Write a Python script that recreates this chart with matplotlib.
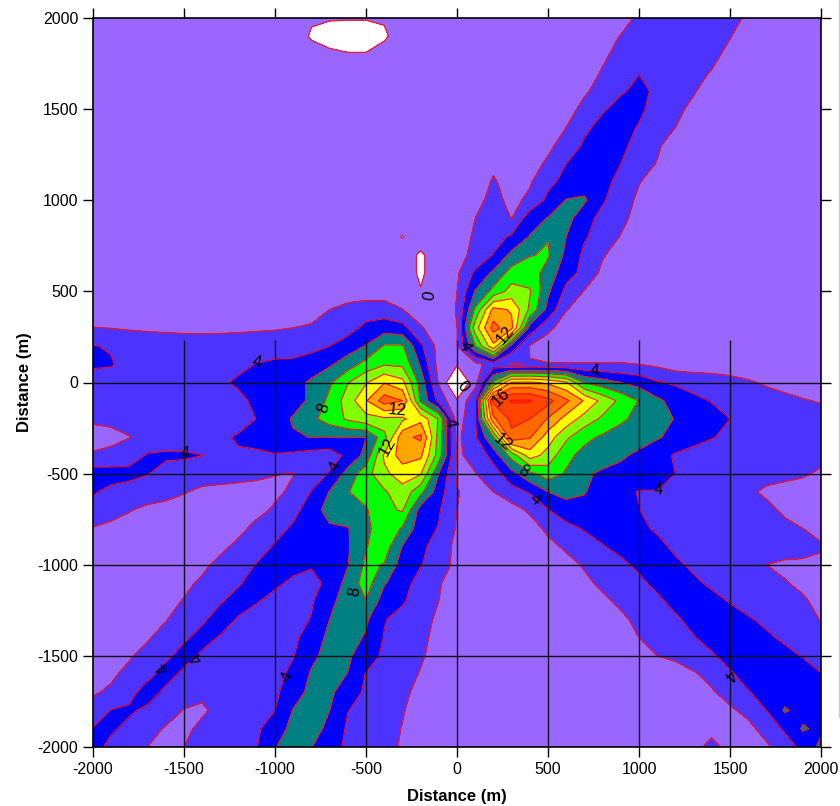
import numpy as np
import matplotlib
matplotlib.use('Agg')
import matplotlib.pyplot as plt
from matplotlib.lines import Line2D

plt.rcParams['font.family'] = ['Liberation Sans', 'DejaVu Sans']

x_dist = [-2000,-1900,-1800,-1700,-1600,-1500,-1400,-1300,-1200,-1100,-1000,-900,-800,-700,-600,-500,-400,-300,-200,-100,0,
          100,200,300,400,500,600,700,800,900,1000,1100,1200,1300,1400,1500,1600,1700,1800,1900,2000]
y_dist = [2000,1900,1800,1700,1600,1500,1400,1300,1200,1100,1000,900,800,700,600,500,400,300,200,100,0,
          -100,-200,-300,-400,-500,-600,-700,-800,-900,-1000,-1100,-1200,-1300,-1400,-1500,-1600,-1700,-1800,-1900,-2000]

# values, one row per y_dist, one column per x_dist
z_vals = [
[1,1,1,1,1,1,1,1,1,1, 1,1,.2,.2,.2,.2,.2,1,1,1, 1, 1,1,1,1,1,1,1,1,1,2.5, 3,3,3,3,2.6,1.7,1,1,1,1],
[1,1,1,1,1,1,1,1,1,1, 1,1,-.2,-1,-1.5,-1.5,-.3,1,1,1, 1, 1,1,1,1,1,1,1,1,2.1,3, 3,3,3,3,2.1,1,1,1,1,1],
[1,1,1,1,1,1,1,1,1,1, 1,1,.7,.5,.2,.2,.8,1,1,1, 1, 1,1,1,1,1,1,1,1.6,2.7,3, 3,3,3,2.5,1.5,1,1,1,1,1],
[1,1,1,1,1,1,1,1,1,1, 1,1,1,1,1,1,1,1,1,1, 1, 1,1,1,1,1,1,1,2.2,2.9,3.95, 3.2,2.9,2.5,1.9,1,1,1,1,1,1],
[1,1,1,1,1,1,1,1,1,1, 1,1,1,1,1,1,1,1,1,1, 1, 1,1,1,1,1,1,1.7,2.8,3.8,4.4, 3.7,2.8,2.2,1,1,1,1,1,1,1],
[1,1,1,1,1,1,1,1,1,1, 1,1,1,1,1,1,1,1,1,1, 1, 1,1,1,1,1,1.2,2.6,3.8,4.6,4.3, 3.4,2.5,1.5,1,1,1,1,1,1,1],
[1,1,1,1,1,1,1,1,1,1, 1,1,1,1,1,1,1,1,1,1, 1, 1,1,1,1,1,2,3.6,4.6,4.5,3.9, 2.9,2,1,1,1,1,1,1,1,1],
[1,1,1,1,1,1,1,1,1,1, 1,1,1,1,1,1,1,1,1,1, 1, 1,1,1,1,1.6,2.8,4.3,4.7,4.4,3.4, 2.3,1,1,1,1,1,1,1,1,1],
[1,1,1,1,1,1,1,1,1,1, 1,1,1,1,1,1,1,1,1,1, 1, 1,1.6,1,1.3,2.3,4,4.6,4.5,4,2.8, 1.9,1,1,1,1,1,1,1,1,1],
[1,1,1,1,1,1,1,1,1,1, 1,1,1,1,1,1,1,1,1,1, 1, 1,2.2,1.3,1.8,3.5,4.6,5,4.6,3.4,2.1, 1,1,1,1,1,1,1,1,1,1],
[1,1,1,1,1,1,1,1,1,1, 1,1,1,1,1,1,1,1,1,1, 1, 1.4,2.6,1.5,2.4,4.5,6.1,6.3,4.2,3,1.6, 1,1,1,1,1,1,1,1,1,1],
[1,1,1,1,1,1,1,1,1,1, 1,1,1,1,1,1,1,1,1,1, 1, 2,2.5,1.98,5.2,6.1,6.8,4.6,3.5,2.5,1.3, 1,1,1,1,1,1,1,1,1,1],
[1,1,1,1,1,1,1,1,1,1, 1,1,1,1,1,1,1,-.1,1,1, 1, 2.3,3.2,4.3,6.1,7.9,6,4.2,3.2,1.9,1, 1,1,1,1,1,1,1,1,1,1],
[1,1,1,1,1,1,1,1,1,1, 1,1,1,1,1,1,1,1,-.3,1, 1.5, 2.4,4.1,6.5,7.9,8.2,5.5,3.6,2.2,1,1, 1,1,1,1,1,1,1,1,1,1],
[1,1,1,1,1,1,1,1,1,1, 1,1,1,1,1,1,1,1,-.3,1, 1.7, 4.4,6.4,8.9,9,7.2,4.7,3.5,1.5,1,1, 1,1,1,1,1,1,1,1,1,1],
[1,1,1,1,1,1,1,1,1,1, 1,1,1,1,1,1,1,1,.1,1, 2, 6.1,8.6,10.8,10.2,6.3,3.5,1.9,1,1,1, 1,1,1,1,1,1,1,1,1,1],
[1,1,1,1,1,1,1,1,1,1, 1,1,1,2,2.6,3,3,2.05,1,1, 2.1, 8.3,14.6,13.8,9.6,5.4,2.1,1,1,1,1, 1,1,1,1,1,1,1,1,1,1],
[2.05,1.95,1.85,1.75,1.65,1.55,1.5,1.55,1.65,1.75, 1.85,2,2.3,2.8,3.2,4.5,5,4.7,2.2,1, 2, 11,16.8,14.5,5.2,2.5,1,1,1,1,1, 1,1,1,1,1,1,1,1,1,1],
[4.1,3.8,3,3,3,3,3,3,3,3, 3,3,3.4,4,5,6.1,8.2,8.2,4.4,1.3, 1.9, 8,13.5,5.2,1.9,1,1,1,1,1,1, 1,1,1,1,1,1,1,1,1,1],
[4.3,4.2,3,3,3,3,3,3,3.7,4.05, 4.4,4.5,5,5.7,7,8.7,9.8,9.6,5.7,1.3, .2, 1.4,2.9,1.9,2.05,2.1,2.1,2.1,2.1,2.1,2, 1.6,1,1,1,1,1,1,1,1,1],
[3,3,3,3,3,3,3,3.8,4.2,4.6, 4.9,5.3,6.3,7.7,9.9,11.8,13.9,12.6,7.2,1.8, -2.5, 1.3,8.3,14.2,14.3,13.6,12.2,7.9,6.9,6,5.3, 4.2,3.7,3.2,3,2.6,2.2,1.8,1.5,1.3,1.2],
[3,3,3,3,3,3,3,3,3.7,4.3, 4.6,5.2,6.4,8.5,10.9,13.8,17,16,7.6,3.4, .2, 3.7,18.5,20.2,20.2,18.7,16.4,13.8,11.4,9.5,7.9, 6.4,5.3,4.5,3.9,3.4,3,2.7,2.4,2.1,1.9],
[2.3,2.5,2.7,2.9,3,3,3,3.1,3.3,4.05, 5,6.2,7.5,8.9,10.3,11.3,11.6,11.6,13.4,9.8, 1, 3.7,15.6,18.5,18,15.8,13.2,11.2,9.6,8.3,7.5, 6.7,5.9,5.3,4.7,4,3.5,3.2,3,2.8,2.5],
[1.3,1.4,1.95,2.6,3,3,3.2,3.7,4.2,4.8, 5.4,5.8,6.05,6.05,6.05,5.95,9.2,15.4,16.4,9.2, 1.5, 3.7,8,17.5,16.2,13,10.4,8.5,7.7,7.2,6.8, 6.2,5.4,4.7,4.1,3.6,3.3,3.1,3,3,2.8],
[2.2,2.6,3,4.2,4.3,4.3,4.02,3.4,3.8,3.6, 3.85,3.6,3.2,3,4.5,6.6,12.3,15,14.4,9, 1.8, 2.4,4.8,8.8,13,11.2,8.5,7.4,6.9,6.3,5.6, 4.7,3.8,3.3,3.1,3,2.8,2.7,2.6,2.5,2.4],
[5,4.8,4.7,4.1,3.3,3,2.7,2.6,2.5,2.3, 2.05,1.95,2.7,4.2,6.7,9.2,11.6,12.9,12.2,6, 1.7, 1.95,3.1,5.3,7.5,9,7.8,6.3,5.7,5.4,5, 4.6,4,3.5,3.1,2.9,2.6,2.4,2.4,2.15,1.8],
[4.2,3.5,3,2.9,2.6,2.1,1.7,1.6,1.5,1.5, 1.7,2.3,4.1,6.1,7.9,8.9,9.7,11.3,8.6,4.9, 2.1, 1.4,2,3.2,4.2,6,6.5,6.1,5.2,4.5,3.9, 3.95,3.9,3.3,2.9,2.6,2.2,1.8,1.5,1.5,1.6],
[3.4,2.8,2.1,1.6,1.4,1.3,1.2,1.2,1.2,1.6, 2.2,3.4,5,6.8,7.2,7.8,9.5,10.2,5.1,4.2, 2, 1,1.1,1.2,2.3,3.9,5.3,5.5,5.2,4.7,4.05, 3.3,3.1,3,2.9,2.8,2.5,2.3,1.8,1.4,1.4],
[1.9,1.5,1.3,1.2,1.1,1.1,1.1,1.1,1.6,2.4, 3.3,4.3,5,5.7,5.9,7.4,9.5,7.8,4.8,3.9, 1.8, 1,1,1,1.2,2.4,3.3,4.2,4.6,4.7,4.3, 3.8,3.4,3.2,3.1,3,2.9,2.7,2.3,2,1.7],
[1.2,1,1,1,1,1,1,1.6,2.4,3.2, 4.2,4.8,5.2,5.6,5.8,7.9,9,5.9,4.5,3.1, 1.5, 1,1,1,1,1.5,2.3,3,3.9,4.5,4.8, 4.4,3.7,3.4,3.2,3.1,3,2.9,2.8,2.6,2.1],
[1,1,1,1,1,1,1.6,2.5,3.3,4.1, 4.6,4.5,4.2,4.6,5.9,8.4,7.9,5.1,4.1,3.1, 1.4, 1,1,1,1,1,1.4,2.2,2.9,3.6,4.4, 4.7,4.3,3.7,3.2,2.8,2.4,2,1.7,1.7,1.8],
[1,1,1,1,1,1.6,2.3,3.2,3.9,4.4, 4.3,3.7,3.4,4.5,6.7,8.9,6.2,4.6,3.4,2.2, 1, 1,1,1,1,1,1,1.6,2.4,3,3.6, 4.5,4.8,4.3,3.7,3.2,2.8,2.5,2.1,1.7,1.6],
[1,1,1,1,1.5,2.1,3,3.9,4.4,4.1, 3.5,3.2,3.8,5.4,7.1,7.95,5,4.2,3.1,2, 1, 1,1,1,1,1,1,1,1.6,2.4,3, 3.6,4.6,4.8,4.5,3.9,3.2,2.9,2.7,2.2,1.6],
[1,1,1,1.4,1.9,2.9,3.8,4.5,3.9,3.4, 3.1,3.3,4.1,6,7,6.3,4.1,3.4,2.6,1.7, 1, 1,1,1,1,1,1,1,1,1.6,2.5, 3,3.7,4.6,4.9,4.7,4.2,3.6,3.1,2.8,1.9],
[1,1,1.4,1.8,2.8,3.8,4.4,3.9,3.4,3.1, 3,3.5,5.1,6.4,6.7,5.8,3.9,3.2,2.4,1.5, 1, 1,1,1,1,1,1,1,1,1,2, 2.9,3.2,3.9,4.6,5,4.8,4.3,3.7,3.2,2.9],
[1,1.3,1.8,2.7,3.7,4.5,3.8,3.4,3.2,3, 3.1,3.9,5.6,6.6,6.3,5,3.6,2.9,2.2,1.4, 1, 1,1,1,1,1,1,1,1,1,1.4, 2,2.3,3,3.8,4.6,5,5,4.5,3.9,3.3],
[1.2,1.7,2.5,3.6,4.5,3.7,3.2,2.9,2.9,3.1, 3.4,4.5,6.2,6.7,5.95,3.9,3.3,2.6,1.9,1, 1, 1,1,1,1,1,1,1,1,1,1, 1,1.3,1.8,2.6,3.8,4.6,5.2,5.3,4.9,4.05],
[1.8,2.3,3.6,4.6,3.7,3,2.4,2.7,3,3.2, 3.6,5.2,6.5,6.4,4.9,3.7,3,2.3,1.6,1, 1, 1,1,1,1,1,1,1,1,1,1, 1,1,1,1.8,2.7,3.9,4.6,5.2,5.3,5],
[2.8,4.1,4.2,3.7,3,1.9,1.7,2.6,3,3.4, 4,6.1,6.6,6,4.05,3.4,2.8,2.1,1.4,1, 1, 1,1,1,1,1,1,1,1,1,1, 1,1,1,1,1.7,2.5,4,6.2,5.4,5.4],
[4.1,4.2,3.6,2.8,1.8,1.5,2.5,3,3.3,3.7, 5,6.6,6.6,5.6,3.7,3.1,2.5,1.95,1.3,1, 1, 1,1,1,1,1,1,1,1,1,1, 1,1,1,1,1,1.5,2.7,4.3,6.2,5.6],
[4.5,3.6,3.2,2,1.4,2,2.7,3,3.4,3.95, 5.9,6.9,6.05,5,3.5,3.2,2.6,1.8,1.2,1, 1, 1,1,1,1,1,1,1,1,1,1, 1,1,1,3,1,1,1.7,2.9,4.6,6.5],
]

levels = [0,2,4,6,8,10,12,14,16,18,20,22]
band_colors = ['#9966FF','#4D33FF','#0000FF','#008080','#00FF00','#80FF00','#FFFF00',
               '#FFA500','#FF6A00','#FF4400','#FF3300']

x_ticks = [-2000,-1500,-1000,-500,0,500,1000,1500,2000]
y_ticks = [-2000,-1500,-1000,-500,0,500,1000,1500,2000]

# contour labels: text, x, y, rotation
label_txt = ['4','8','12','12','4','0','4','12','16','12','8','4','4','4','4','4','4','4','4','4','8','0']
label_x = [-1099,-731,-330,-380,-38,33,44,264,242,253,368,429,758,1104,1495,-1495,-670,-1615,-1429,-929,-560,-148]
label_y = [113,-140,-151,-354,-222,-25,200,261,-80,-327,-486,-640,63,-585,-1602,-387,-464,-1563,-1508,-1618,-1150,475]
label_rot = [-10,70,-5,60,-80,-50,-65,50,45,-40,-30,-40,-5,0,-130,0,60,130,130,65,80,80]

fig = plt.figure(figsize=(8.4, 8.06), dpi=100)
ax = fig.add_axes([93/840, 1-747/806, 728/840, 729/806])

X, Y = np.meshgrid(x_dist, y_dist)
Z = np.array(z_vals)
ax.contourf(X, Y, Z, levels=levels, colors=band_colors)
ax.contour(X, Y, Z, levels=levels[:-1], colors='#FF1010', linewidths=0.8)

for t, lx, ly, r in zip(label_txt, label_x, label_y, label_rot):
    ax.text(lx, ly, t, fontsize=12, rotation=r, ha='center', va='center', color='black')

# grid stops short of the top half
ax.vlines(x_ticks[1:-1], -2000, 235, color='#111111', lw=1)
ax.hlines(y_ticks[1:5], -2000, 2000, color='#111111', lw=1)

ax.set_xlim(-2000, 2000)
ax.set_ylim(-2000, 2000)
ax.set_xticks(x_ticks)
ax.set_yticks(y_ticks)
ax.set_xticklabels([str(v) for v in x_ticks], fontsize=11.5)
ax.set_yticklabels([str(v) for v in y_ticks], fontsize=11.5)
ax.tick_params(direction='out', length=7.5, width=1, top=True, right=True, pad=3)
for s in ax.spines.values():
    s.set_linewidth(1.2)
ax.set_xlabel('Distance (m)', fontsize=12, fontweight='bold', labelpad=9)
ax.set_ylabel('Distance (m)', fontsize=12, fontweight='bold', labelpad=4)

fig.add_artist(Line2D([839/840, 839/840], [1-717/806, 1], color='#cccccc', lw=1))

plt.savefig('out.png', dpi=100)
